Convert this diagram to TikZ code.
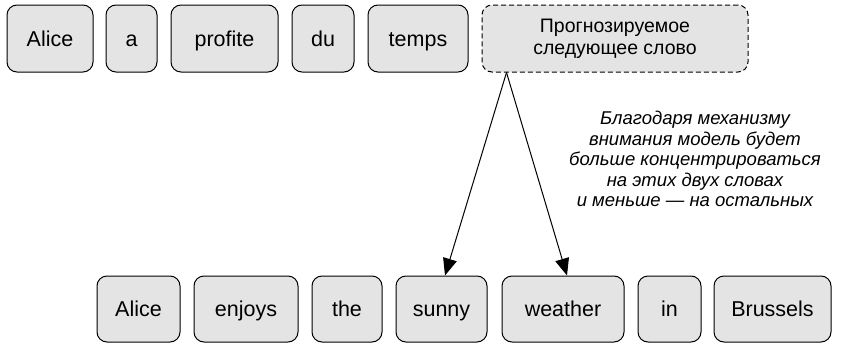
\documentclass[tikz,border=0pt]{standalone}
\usepackage{fontspec}
\setmainfont{Liberation Sans}
\usetikzlibrary{arrows.meta}
\definecolor{boxfill}{RGB}{228,228,228}
\tikzset{
  word/.style={draw=black, line width=1pt, fill=boxfill, rounded corners=10pt,
    minimum height=67pt, inner sep=0pt, align=center, text height=15.4pt, text depth=0pt,
    font=\fontsize{21.5}{23}\selectfont},
  predbox/.style={draw=black, line width=1pt, fill=boxfill, rounded corners=10pt,
    minimum height=67pt, inner sep=0pt, align=center,
    dashed, dash pattern=on 5pt off 3pt, font=\fontsize{19.5}{22}\selectfont},
  conn/.style={line width=1pt, -{Triangle[length=17pt,width=14pt]}},
  note/.style={align=center, font=\fontsize{18.5}{20.5}\selectfont\itshape}
}
\begin{document}
\begin{tikzpicture}[x=1pt,y=-1pt]
\useasboundingbox (0,0) rectangle (841,343);
% top row
\node[word, minimum width=86pt] (t1) at (50,38.5) {Alice};
\node[word, minimum width=51pt] (t2) at (131.5,38.5) {a};
\node[word, minimum width=107pt] (t3) at (224.5,38.5) {profite};
\node[word, minimum width=62pt] (t4) at (323,38.5) {du};
\node[word, minimum width=100pt] (t5) at (418,38.5) {temps};
\node[predbox, minimum width=266pt] (pred) at (615,38.5) {Прогнозируемое\\следующее слово};
% bottom row
\node[word, minimum width=83pt, minimum height=66pt] (b1) at (138.5,309) {Alice};
\node[word, minimum width=104pt, minimum height=66pt] (b2) at (246,309) {enjoys};
\node[word, minimum width=70pt, minimum height=66pt] (b3) at (347,309) {the};
\node[word, minimum width=91pt, minimum height=66pt] (b4) at (441.5,309) {sunny};
\node[word, minimum width=122pt, minimum height=66pt] (b5) at (563,309) {weather};
\node[word, minimum width=63pt, minimum height=66pt] (b6) at (669.5,309) {in};
\node[word, minimum width=117pt, minimum height=66pt] (b7) at (772.5,309) {Brussels};
% annotation
\node[note] (n) at (695,159) {Благодаря механизму\\внимания модель будет\\больше концентрироваться\\на этих двух словах\\и меньше — на остальных};
% connectors
\coordinate (apex) at ([xshift=25pt]pred.south west);
\draw[conn] (apex) -- ([xshift=3.5pt]b4.north);
\draw[conn] (apex) -- ([xshift=4pt]b5.north);
\end{tikzpicture}
\end{document}
